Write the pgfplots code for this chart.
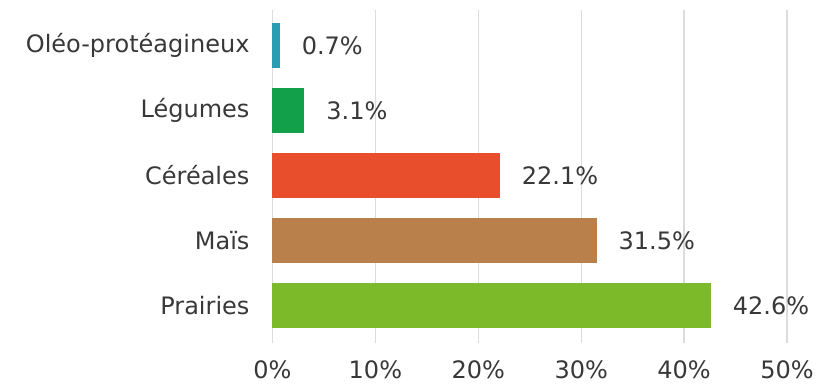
\documentclass[border=0pt]{standalone}
\usepackage{fontspec}
\setmainfont{DejaVu Sans}
\usepackage{pgfplots}
\pgfplotsset{compat=1.18}

\definecolor{oleo}{HTML}{2A9DB3}
\definecolor{legumes}{HTML}{13A04B}
\definecolor{cereales}{HTML}{E84D2C}
\definecolor{mais}{HTML}{B9804B}
\definecolor{prairies}{HTML}{7CBA2A}
\definecolor{txt}{HTML}{383838}
\definecolor{gridgray}{HTML}{DCDCDC}

\begin{document}
\begin{tikzpicture}
\useasboundingbox (-136.25pt,-21pt) rectangle (273.75pt,171.5pt);
\begin{axis}[
  at={(0,0)}, anchor=south west,
  scale only axis,
  width=257.25pt, height=166.5pt,
  xbar, bar width=22.5pt, bar shift=0pt,
  xmin=0, xmax=50, ymin=-0.577, ymax=4.546,
  axis line style={draw=none},
  xtick={0,10,20,30,40,50},
  xticklabels={0\%,10\%,20\%,30\%,40\%,50\%},
  ytick={0,1,2,3,4},
  yticklabels={Prairies,Maïs,Céréales,Légumes,Oléo-protéagineux},
  major tick length=0pt,
  xmajorgrids=true, ymajorgrids=false,
  major grid style={draw=gridgray, line width=0.6pt},
  font=\fontsize{12}{14}\selectfont,
  tick label style={text=txt},
  xticklabel style={yshift=-5.5pt},
  yticklabel style={xshift=-8pt},
  /pgf/number format/assume math mode=true,
  point meta=x,
  nodes near coords={\pgfmathprintnumber{\pgfplotspointmeta}\%},
  nodes near coords align={horizontal},
  every node near coord/.append style={text=txt, xshift=7.5pt,
    font=\fontsize{12}{14}\selectfont},
  clip=false,
]
\addplot[draw=none, fill=prairies] coordinates {(42.6,0)};
\addplot[draw=none, fill=mais] coordinates {(31.5,1)};
\addplot[draw=none, fill=cereales] coordinates {(22.1,2)};
\addplot[draw=none, fill=legumes] coordinates {(3.1,3)};
\addplot[draw=none, fill=oleo] coordinates {(0.7,4)};
\end{axis}
\end{tikzpicture}
\end{document}
